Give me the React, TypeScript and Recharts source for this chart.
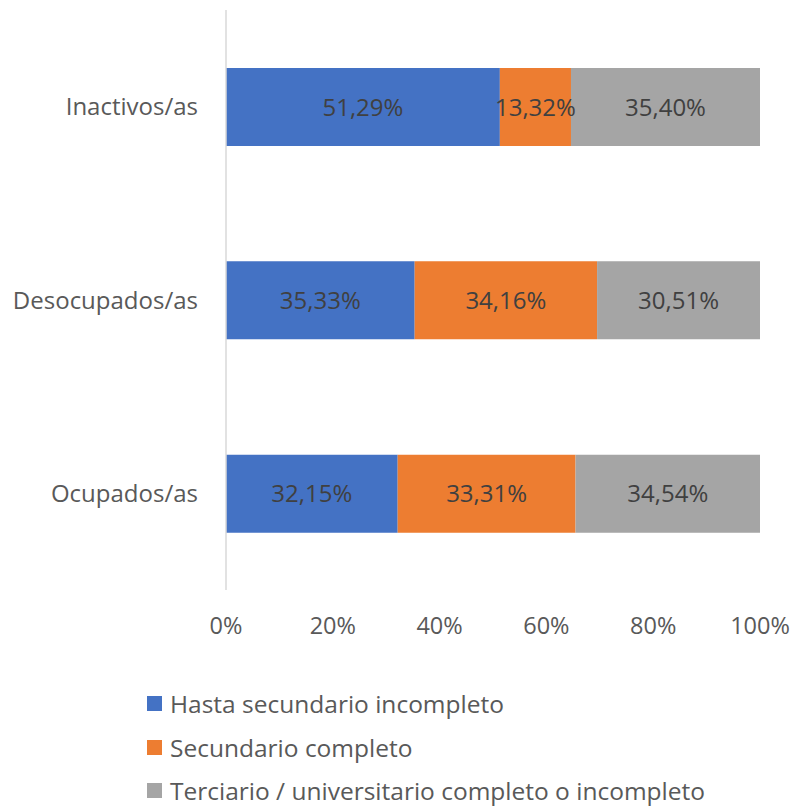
import React from 'react';
import { BarChart, Bar, XAxis, YAxis, Legend, LabelList } from 'recharts';

const categories = ['Inactivos/as', 'Desocupados/as', 'Ocupados/as'];
const hastaSecundario = [51.29, 35.33, 32.15];
const secundarioCompleto = [13.32, 34.16, 33.31];
const terciario = [35.4, 30.51, 34.54];
const xTicks = [0, 0.2, 0.4, 0.6, 0.8, 1];

const seriesNames = {
    hasta: 'Hasta secundario incompleto',
    secundario: 'Secundario completo',
    terciario: 'Terciario / universitario completo o incompleto',
};

const colors = { hasta: '#4472C4', secundario: '#ED7D31', terciario: '#A5A5A5' };

const data = categories.map((name, i) => {
    const total = hastaSecundario[i] + secundarioCompleto[i] + terciario[i];
    return {
        name,
        hasta: hastaSecundario[i] / total,
        secundario: secundarioCompleto[i] / total,
        terciario: terciario[i] / total,
        hastaRaw: hastaSecundario[i],
        secundarioRaw: secundarioCompleto[i],
        terciarioRaw: terciario[i],
    };
});

const font = '"Open Sans", sans-serif';
const fmtPct = (v: number) => v.toFixed(2).replace('.', ',') + '%';

const renderLegend = () => (
    <div style={{ fontFamily: font, fontSize: 24.5, color: '#595959', paddingTop: 5 }}>
        {(['hasta', 'secundario', 'terciario'] as const).map((k) => (
            <div key={k} style={{ display: 'flex', alignItems: 'center', height: 43.5 }}>
                <span style={{ width: 15, height: 15, background: colors[k], marginRight: 8, display: 'inline-block' }} />
                <span>{seriesNames[k]}</span>
            </div>
        ))}
    </div>
);

export default function App() {
    return (
        <div style={{ position: 'absolute', left: 0, top: 0, width: 792, height: 807, background: '#fff' }}>
            <BarChart
                width={792}
                height={807}
                data={data}
                layout="vertical"
                margin={{ top: 10, right: 32, bottom: 0, left: 0 }}
                barSize={78}
            >
                <XAxis
                    type="number"
                    domain={[0, 1]}
                    ticks={xTicks}
                    tickFormatter={(v) => `${Math.round(v * 100)}%`}
                    axisLine={false}
                    tickLine={false}
                    tickSize={0}
                    tickMargin={27}
                    height={87}
                    tick={{ fill: '#595959', fontSize: 23.5, fontFamily: font }}
                    interval={0}
                />
                <YAxis
                    type="category"
                    dataKey="name"
                    width={226}
                    axisLine={{ stroke: '#D9D9D9', strokeWidth: 1.5 }}
                    tickLine={false}
                    tickSize={0}
                    tickMargin={28}
                    tick={{ fill: '#595959', fontSize: 24, fontFamily: font }}
                />
                <Legend
                    verticalAlign="bottom"
                    content={renderLegend}
                    wrapperStyle={{ left: 147, width: 640, height: 130, bottom: 0 }}
                />
                {(['hasta', 'secundario', 'terciario'] as const).map((k) => (
                    <Bar key={k} dataKey={k} stackId="a" fill={colors[k]} name={seriesNames[k]} isAnimationActive={false}>
                        <LabelList
                            dataKey={`${k}Raw`}
                            position="center"
                            formatter={(v: any) => fmtPct(Number(v))}
                            fill="#404040"
                            fontSize={24}
                            fontFamily={font}
                        />
                    </Bar>
                ))}
            </BarChart>
        </div>
    );
}
